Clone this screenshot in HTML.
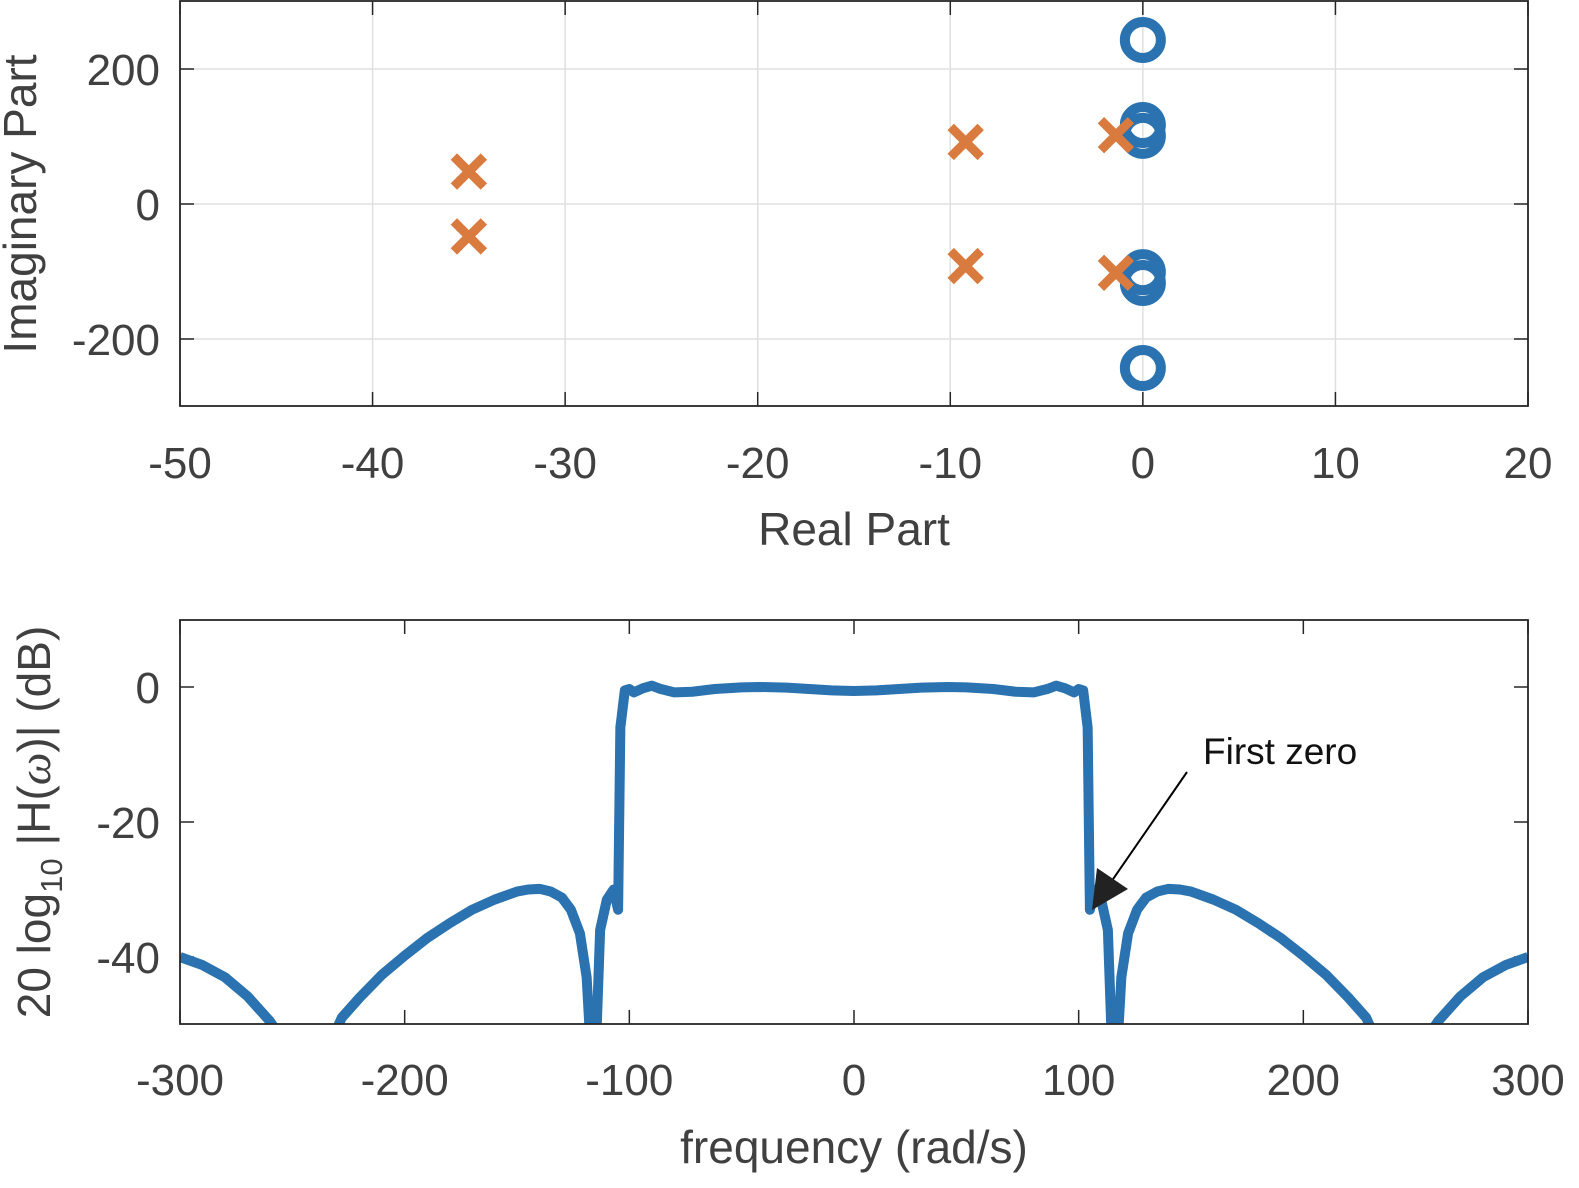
<!DOCTYPE html>
<html><head><meta charset="utf-8"><style>
body{margin:0;background:#fff}
svg text{font-family:"Liberation Sans",sans-serif;fill:#404040}
</style></head><body>
<svg id="fig" width="1579" height="1183" xmlns="http://www.w3.org/2000/svg">
<defs>
<clipPath id="c1"><rect x="180" y="1" width="1348" height="405"/></clipPath>
<clipPath id="c2"><rect x="180" y="620" width="1348" height="404"/></clipPath>
</defs>
<g id="topplot"></g>
<g id="botplot"></g>
</svg>
<script>
// Pole-zero data
const zeroRe = [0, 0, 0, 0, 0, 0];
const zeroIm = [243, -243, 101, -101, 117, -117];
const poleRe = [-35, -35, -9.2, -9.2, -1.4, -1.4];
const poleIm = [48, -48, 92, -92, 102, -102];
const topXTicks = [-50, -40, -30, -20, -10, 0, 10, 20];
const topYTicks = [-200, 0, 200];
// Frequency response data
const freq = [-300,-290,-280,-270,-260,-255,-243,-232,-228,-220,-210,-200,-190,-180,-170,-160,-150,-145,-140,-135,-130,-126,-122,-119,-117,-115,-113,-110,-107,-105,-104,-102,-100,-98,-94,-90,-86,-80,-72,-62,-50,-42,-30,-20,-10,0,
10,20,30,42,50,62,72,80,86,90,94,98,100,102,104,105,107,110,113,115,117,119,122,126,130,135,140,145,150,160,170,180,190,200,210,220,228,232,243,255,260,270,280,290,300];
const magDB = [-40,-41.2,-43,-45.8,-49.5,-52,-70,-52,-49,-46,-42.6,-39.8,-37.2,-35,-33,-31.5,-30.3,-30,-29.9,-30.3,-31.2,-33,-36.5,-43,-55,-55,-36,-31.5,-30,-33,-6,-0.5,-0.3,-0.8,-0.2,0.2,-0.3,-0.8,-0.7,-0.3,-0.05,0,-0.1,-0.3,-0.5,-0.6,
-0.5,-0.3,-0.1,0,-0.05,-0.3,-0.7,-0.8,-0.3,0.2,-0.2,-0.8,-0.3,-0.5,-6,-33,-30,-31.5,-36,-55,-55,-43,-36.5,-33,-31.2,-30.3,-29.9,-30,-30.3,-31.5,-33,-35,-37.2,-39.8,-42.6,-46,-49,-52,-70,-52,-49.5,-45.8,-43,-41.2,-40];
const botXTicks = [-300, -200, -100, 0, 100, 200, 300];
const botYTicks = [-40, -20, 0];

const NS="http://www.w3.org/2000/svg";
function mk(p,tag,attrs,txt){const e=document.createElementNS(NS,tag);for(const k in attrs)e.setAttribute(k,attrs[k]);if(txt!==undefined)e.textContent=txt;p.appendChild(e);return e;}
const topG=document.getElementById('topplot'), botG=document.getElementById('botplot');
const tx=v=>180+(v+50)*(1348/70), ty=v=>204-v*0.675;
for(const t of topXTicks){
  const g=mk(topG,'line',{x1:tx(t),x2:tx(t),y1:1,y2:406,stroke:'#e0e0e0','stroke-width':1.5});
  
  
  mk(topG,'line',{x1:tx(t),x2:tx(t),y1:406,y2:392,stroke:'#262626','stroke-width':1.5});
  mk(topG,'line',{x1:tx(t),x2:tx(t),y1:1,y2:15,stroke:'#262626','stroke-width':1.5});
  const l=mk(topG,'text',{x:tx(t),y:478,'font-size':44,'text-anchor':'middle'},String(t));
  
  
}
for(const t of topYTicks){
  const g=mk(topG,'line',{x1:180,x2:1528,y1:ty(t),y2:ty(t),stroke:'#e0e0e0','stroke-width':1.5});
  
  
  mk(topG,'line',{x1:180,x2:194,y1:ty(t),y2:ty(t),stroke:'#262626','stroke-width':1.5});
  mk(topG,'line',{x1:1514,x2:1528,y1:ty(t),y2:ty(t),stroke:'#262626','stroke-width':1.5});
  const l=mk(topG,'text',{x:160,y:ty(t)+16,'font-size':44,'text-anchor':'end'},String(t));
  
  
}
mk(topG,'rect',{x:180,y:1,width:1348,height:405,fill:'none',stroke:'#262626','stroke-width':1.8});
let t1=mk(topG,'text',{x:854,y:545,'font-size':46,'text-anchor':'middle'},'Real Part');


t1=mk(topG,'text',{x:0,y:0,'font-size':46,'text-anchor':'middle',transform:'translate(36,204) rotate(-90)'},'Imaginary Part');


const mk1=mk(topG,'g',{'clip-path':'url(#c1)'});
for(let i=0;i<zeroRe.length;i++){
  const c=mk(mk1,'circle',{cx:tx(zeroRe[i]),cy:ty(zeroIm[i]),r:18,fill:'none',stroke:'#2a72b0','stroke-width':10});
  
  
}
for(let i=0;i<poleRe.length;i++){
  const x=tx(poleRe[i]),y=ty(poleIm[i]),s=15;
  const p=mk(mk1,'path',{d:`M${x-s},${y-s}L${x+s},${y+s}M${x-s},${y+s}L${x+s},${y-s}`,stroke:'#d97a3e','stroke-width':9});
  
  
}
const bx=v=>180+(v+300)*(1348/600), by=v=>687-v*6.75;
for(const t of botXTicks){
  mk(botG,'line',{x1:bx(t),x2:bx(t),y1:1024,y2:1010,stroke:'#262626','stroke-width':1.5});
  mk(botG,'line',{x1:bx(t),x2:bx(t),y1:620,y2:634,stroke:'#262626','stroke-width':1.5});
  const l=mk(botG,'text',{x:bx(t),y:1095,'font-size':44,'text-anchor':'middle'},String(t));
  
  
}
for(const t of botYTicks){
  mk(botG,'line',{x1:180,x2:194,y1:by(t),y2:by(t),stroke:'#262626','stroke-width':1.5});
  mk(botG,'line',{x1:1514,x2:1528,y1:by(t),y2:by(t),stroke:'#262626','stroke-width':1.5});
  const l=mk(botG,'text',{x:160,y:by(t)+16,'font-size':44,'text-anchor':'end'},String(t));
  
  
}
const cg=mk(botG,'g',{'clip-path':'url(#c2)'});
const line=mk(cg,'polyline',{points:freq.map((f,i)=>bx(f)+','+by(magDB[i])).join(' '),fill:'none',stroke:'#2a72b0','stroke-width':10,'stroke-linejoin':'round'});


mk(botG,'rect',{x:180,y:620,width:1348,height:404,fill:'none',stroke:'#262626','stroke-width':1.8});
t1=mk(botG,'text',{x:854,y:1163,'font-size':46,'text-anchor':'middle'},'frequency (rad/s)');


t1=mk(botG,'text',{x:0,y:0,'font-size':46,'text-anchor':'middle',transform:'translate(50,822) rotate(-90)'});
const parts=[['20 log',{}],['10',{'font-size':31,dy:12}],[' |H(',{dy:-12}],['ω',{'font-family':'Liberation Serif','font-style':'italic'}],[')| (dB)',{}]];
for(const [s,a] of parts){mk(t1,'tspan',a,s);}


const ar=mk(botG,'line',{x1:1187,y1:772,x2:1100,y2:898,stroke:'#000','stroke-width':2});


const ah=mk(botG,'path',{d:'M1092,910 L1097,868 L1128,889 Z',fill:'#222'});


t1=mk(botG,'text',{x:1203,y:764,'font-size':37,style:'fill:#111'},'First zero');


</script>
</body></html>
